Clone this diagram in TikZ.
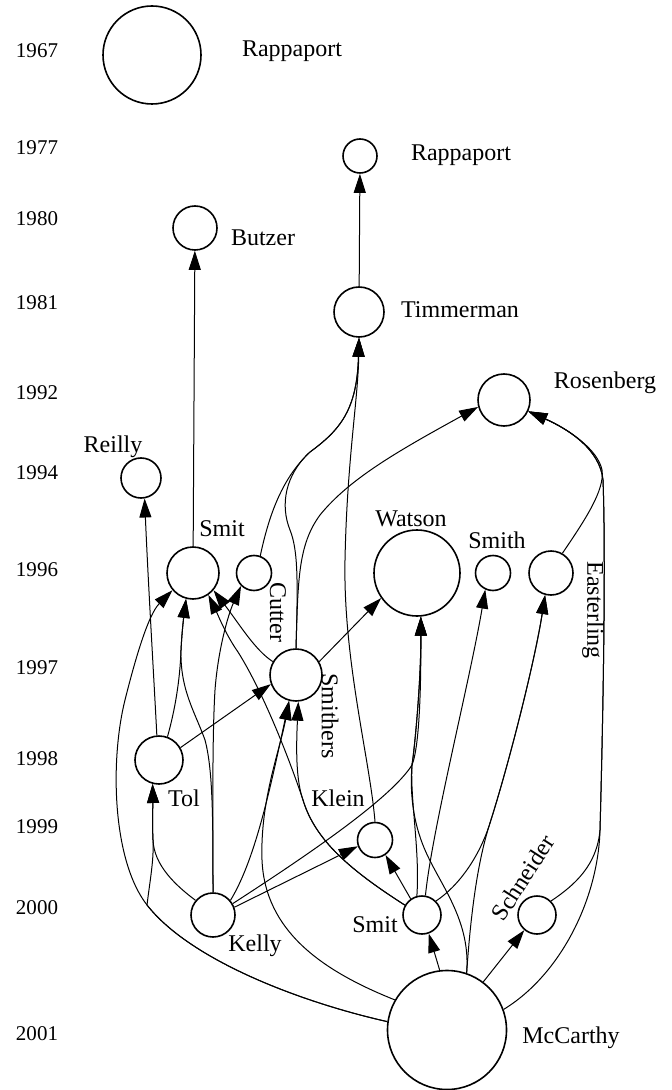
\documentclass[tikz,border=0pt]{standalone}
\usepackage{fontspec}
\setmainfont{Liberation Serif}
\usetikzlibrary{arrows.meta}
\begin{document}
\begin{tikzpicture}[x=0.5pt,y=-0.5pt,
    au/.style={circle,draw,line width=0.8pt,inner sep=0pt,minimum size=#1},
    txt/.style={font=\fontsize{12}{14}\selectfont,inner sep=0pt},
    yr/.style={font=\fontsize{10.5}{12}\selectfont,inner sep=0pt},
    cite/.style={-{Triangle[length=9.5pt,width=6pt]},line width=0.5pt}]
  \useasboundingbox (0,0) rectangle (672,1090);
  \path
    (152,55) node[au=49pt] (rappA) {}
    (360,156) node[au=17pt] (rappB) {}
    (195,228) node[au=22pt] (butzer) {}
    (359,312) node[au=25pt] (timmerman) {}
    (504,400) node[au=26pt] (rosenberg) {}
    (141,478) node[au=20pt] (reilly) {}
    (193,573) node[au=26pt] (smitA) {}
    (254,573) node[au=17.5pt] (cutter) {}
    (417,573) node[au=43pt] (watson) {}
    (493,573) node[au=17.5pt] (smith) {}
    (551,573) node[au=22pt] (easterling) {}
    (296,675) node[au=26pt] (smithers) {}
    (159,760) node[au=24pt] (tol) {}
    (375,840) node[au=17.5pt] (klein) {}
    (213,915) node[au=22pt] (kelly) {}
    (422,915) node[au=19pt] (smitB) {}
    (537,915) node[au=19pt] (schneider) {}
    (447,1030) node[au=59.5pt] (mccarthy) {};
  \path
    (292,51) node[txt] (tRappA) {Rappaport}
    (461,155) node[txt] (tRappB) {Rappaport}
    (263,238) node[txt] (tButzer) {Butzer}
    (460,310) node[txt] (tTimmerman) {Timmerman}
    (605,383) node[txt] (tRosenberg) {Rosenberg}
    (113,447) node[txt] (tReilly) {Reilly}
    (222,529) node[txt] (tSmitA) {Smit}
    (278,612) node[txt,rotate=-90] (tCutter) {Cutter}
    (411,519) node[txt] (tWatson) {Watson}
    (497,540) node[txt] (tSmith) {Smith}
    (593,610) node[txt,rotate=-90] (tEasterling) {Easterling}
    (330,716) node[txt,rotate=-90] (tSmithers) {Smithers}
    (184,798) node[txt] (tTol) {Tol}
    (338,798) node[txt] (tKlein) {Klein}
    (255,946) node[txt] (tKelly) {Kelly}
    (375,925) node[txt] (tSmitB) {Smit}
    (523,878) node[txt,rotate=57] (tSchneider) {Schneider}
    (571,1038) node[txt] (tMcCarthy) {McCarthy};
  \foreach \yr/\yy in {1967/51,1977/148,1980/219,1981/303,1992/393,1994/473,
      1996/570,1997/668,1998/759,1999/827,2000/908,2001/1034}
    \node[yr] (y\yr) at (37,\yy) {\yr};
  \begin{scope}[cite]
    \draw (smitA) -- (butzer);
    \draw (timmerman) -- (rappB);
    \draw (klein.north) .. controls (370,760) and (343,660) .. (345,560)
      .. controls (347,460) and (358,400) .. (timmerman.south);
    \draw (cutter.70) .. controls (268,520) and (280,480) .. (310,452)
      .. controls (340,430) and (357,410) .. (timmerman.south);
    \draw (smithers.north) .. controls (298,580) and (298,550) .. (290,530)
      .. controls (280,505) and (285,475) .. (310,452)
      .. controls (340,430) and (357,410) .. (timmerman.south);
    \draw (smithers.north) .. controls (298,580) and (298,545) .. (320,515)
      .. controls (350,478) and (400,450) .. (rosenberg.195);
    \draw (easterling.60) .. controls (585,520) and (605,490) .. (602,470)
      .. controls (598,450) and (570,430) .. (rosenberg.-25);
    \draw (mccarthy.20) .. controls (560,975) and (598,900) .. (600,830)
      .. controls (603,720) and (606,560) .. (603,480)
      .. controls (600,450) and (570,430) .. (rosenberg.-25);
    \draw (schneider.45) .. controls (575,885) and (597,865) .. (600,830)
      .. controls (603,720) and (606,560) .. (603,480)
      .. controls (600,450) and (570,430) .. (rosenberg.-25);
    \draw (tol.95) .. controls (154,680) and (148,580) .. (reilly.-80);
    \draw (mccarthy.172) .. controls (300,1002) and (190,960) .. (147,905)
      .. controls (112,860) and (110,760) .. (125,700)
      .. controls (135,660) and (148,615) .. (smitA.220);
    \draw (mccarthy.172) .. controls (300,1002) and (190,960) .. (147,905)
      .. controls (150,880) and (154,860) .. (153,840)
      .. controls (152,820) and (153,800) .. (tol.-105);
    \draw (kelly.140) .. controls (175,885) and (154,865) .. (153,840)
      .. controls (152,820) and (153,800) .. (tol.-105);
    \draw (tol.70) .. controls (175,710) and (180,680) .. (181,650)
      .. controls (182,630) and (184,615) .. (smitA.-105);
    \draw (kelly.north) .. controls (213,820) and (213,770) .. (205,740)
      .. controls (195,712) and (180,690) .. (181,650)
      .. controls (182,630) and (184,615) .. (smitA.-105);
    \draw (kelly.north) .. controls (213,820) and (212,740) .. (215,690)
      .. controls (218,650) and (228,615) .. (cutter.-135);
    \draw (smithers.150) .. controls (255,650) and (240,625) .. (smitA.-40);
    \draw (smitB.150) .. controls (350,870) and (315,840) .. (303,800)
      .. controls (288,755) and (262,690) .. (238,652)
      .. controls (226,635) and (218,615) .. (smitA.-55);
    \draw (smitB.150) .. controls (350,870) and (315,840) .. (303,800)
      .. controls (296,780) and (296,750) .. (smithers.-85);
    \draw (tol.30) -- (smithers.200);
    \draw (kelly.40) .. controls (255,860) and (270,790) .. (smithers.-105);
    \draw (mccarthy.150) .. controls (320,970) and (265,930) .. (262,860)
      .. controls (260,800) and (280,750) .. (smithers.-105);
    \draw (smithers.30) -- (watson.-145);
    \draw (kelly.30) .. controls (300,860) and (390,800) .. (412,765)
      .. controls (420,745) and (421,680) .. (watson.-85);
    \draw (smitB.105) .. controls (420,850) and (410,800) .. (412,765)
      .. controls (415,745) and (421,680) .. (watson.-85);
    \draw (mccarthy.71) .. controls (471,920) and (440,885) .. (425,850)
      .. controls (412,820) and (410,790) .. (412,765)
      .. controls (415,745) and (421,680) .. (watson.-85);
    \draw (smitB.80) .. controls (432,830) and (470,680) .. (smith.-115);
    \draw (smitB.45) .. controls (460,885) and (480,855) .. (490,823)
      .. controls (510,760) and (535,660) .. (easterling.-105);
    \draw (mccarthy.71) .. controls (471,910) and (478,860) .. (490,823)
      .. controls (510,760) and (535,660) .. (easterling.-105);
    \draw (kelly.20) -- (klein.200);
    \draw (smitB.125) -- (klein.-55);
    \draw (mccarthy.97) -- (smitB.-70);
    \draw (mccarthy.53) -- (schneider.-130);
  \end{scope}
\end{tikzpicture}
\end{document}
